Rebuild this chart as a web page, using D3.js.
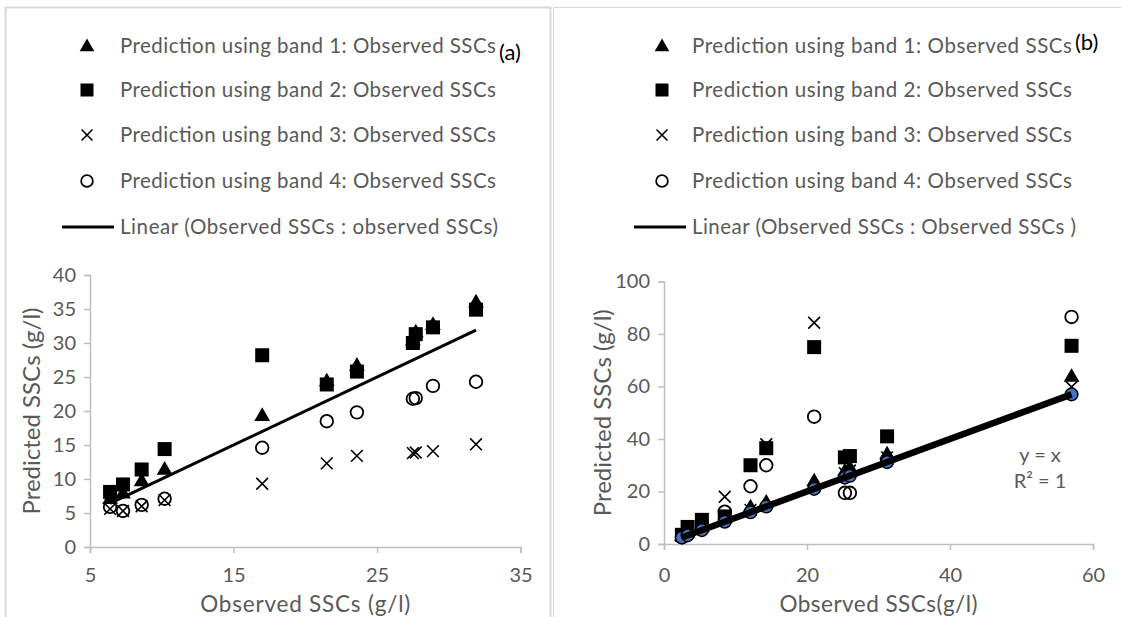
<!DOCTYPE html>
<html><head><meta charset="utf-8">
<script src="https://cdn.jsdelivr.net/npm/d3@7"></script>
<style>body{margin:0;background:#fff}svg{display:block}text{font-family:Lato,"Open Sans",sans-serif}</style>
</head><body>
<svg id="c" width="1121" height="617"></svg>
<script>
// ---------- Data: panel (a) ----------
const obsA  = [6.4, 7.3, 8.6, 10.2, 17.0, 21.5, 23.6, 27.5, 27.7, 28.9, 31.9];
const b1A   = [7.0, 7.8, 9.6, 11.3, 19.2, 24.3, 26.6, 30.3, 31.5, 32.6, 35.9];
const b2A   = [8.1, 9.2, 11.4, 14.4, 28.2, 23.9, 25.8, 30.0, 31.3, 32.3, 34.9];
const b3A   = [5.6, 5.3, 6.0, 6.9, 9.3, 12.3, 13.4, 13.8, 13.9, 14.1, 15.1];
const b4A   = [5.9, 5.3, 6.2, 7.1, 14.6, 18.5, 19.8, 21.8, 21.9, 23.7, 24.3];
const xTicksA = [5, 15, 25, 35];
const yTicksA = [0, 5, 10, 15, 20, 25, 30, 35, 40];
// ---------- Data: panel (b) ----------
const obsB  = [2.5, 3.3, 5.3, 8.5, 12.1, 14.3, 21.0, 25.3, 26.0, 31.2, 57.0];
const b1B   = [3.0, 4.2, 6.2, 9.6, 13.8, 15.6, 23.7, 27.5, 28.8, 34.0, 63.5];
const b2B   = [3.5, 6.5, 9.2, 10.5, 30.0, 36.5, 75.0, 33.0, 33.5, 41.0, 75.5];
const b3B   = [3.2, 5.0, 7.0, 18.0, 13.0, 38.0, 84.3, 27.0, 28.0, 33.0, 59.8];
const b4B   = [2.6, 3.6, 6.0, 12.3, 22.0, 30.0, 48.5, 19.5, 19.5, 32.0, 86.5];
const xTicksB = [0, 20, 40, 60];
const yTicksB = [0, 20, 40, 60, 80, 100];

const legendLabels = [
  "Prediction using band 1: Observed SSCs",
  "Prediction using band 2: Observed SSCs",
  "Prediction using band 3: Observed SSCs",
  "Prediction using band 4: Observed SSCs"
];
const lineLabelA = "Linear (Observed SSCs : observed SSCs)";
const lineLabelB = "Linear (Observed SSCs : Observed SSCs )";

const svg = d3.select("#c");
const grey = "#595959", axisGrey = "#bfbfbf", frame = "#d9d9d9";

// panel frames
svg.append("path").attr("d","M5.5,640V7.5H550.5V640").attr("fill","none").attr("stroke",frame).attr("stroke-width",2);
svg.append("path").attr("d","M553.5,640V7.5H1130").attr("fill","none").attr("stroke",frame).attr("stroke-width",1);

function marker(g, type, x, y, s) {
  if (type === "tri") {
    g.append("path").attr("d", d3.symbol(d3.symbolTriangle, s*s*0.55)()).attr("transform",`translate(${x},${y})`).attr("fill","#000");
  } else if (type === "sq") {
    g.append("rect").attr("x",x-s/2).attr("y",y-s/2).attr("width",s).attr("height",s).attr("fill","#000");
  } else if (type === "x") {
    const h = s*0.42;
    g.append("path").attr("d",`M${x-h},${y-h}L${x+h},${y+h}M${x-h},${y+h}L${x+h},${y-h}`).attr("stroke","#000").attr("stroke-width",1.6).attr("fill","none");
  } else if (type === "circ") {
    g.append("circle").attr("cx",x).attr("cy",y).attr("r",s*0.45).attr("fill","none").attr("stroke","#000").attr("stroke-width",1.8);
  } else if (type === "blue") {
    g.append("circle").attr("cx",x).attr("cy",y).attr("r",s*0.45).attr("fill","#4472C4").attr("stroke","#000").attr("stroke-width",1.5);
  }
}

function panel(cfg) {
  const x = d3.scaleLinear().domain(cfg.xDom).range(cfg.xRange);
  const y = d3.scaleLinear().domain(cfg.yDom).range(cfg.yRange);
  const g = svg.append("g");

  const xa = g.append("g").attr("transform",`translate(0,${cfg.yRange[0]})`)
    .call(d3.axisBottom(x).tickValues(cfg.xTicks).tickSize(6).tickPadding(cfg.xPad).tickFormat(d3.format("d")));
  const ya = g.append("g").attr("transform",`translate(${cfg.xRange[0]},0)`)
    .call(d3.axisLeft(y).tickValues(cfg.yTicks).tickSize(6).tickPadding(8).tickFormat(d3.format("d")));
  [xa, ya].forEach(a => {
    a.select(".domain").attr("stroke",axisGrey).attr("stroke-width",1.5);
    a.selectAll(".tick line").attr("stroke",axisGrey).attr("stroke-width",1.5);
    a.selectAll(".tick text").attr("fill",grey).style("font-size","20px").style("font-family","Lato, 'Open Sans', sans-serif");
  });

  const m = g.append("g");
  const series = [["tri",cfg.b1],["sq",cfg.b2],["x",cfg.b3],["circ",cfg.b4]];
  series.forEach(([t, vals]) => vals.forEach((v,i) => marker(m, t, x(cfg.obs[i]), y(v), 14)));
  if (cfg.blue) cfg.obs.forEach(o => marker(m, "blue", x(o), y(o), 14));

  const lo = d3.min(cfg.obs), hi = d3.max(cfg.obs);
  g.append("line").attr("x1",x(lo)).attr("y1",y(lo)).attr("x2",x(hi)).attr("y2",y(hi))
    .attr("stroke","#000").attr("stroke-width",cfg.lw).attr("stroke-linecap","butt");

  // axis titles
  g.append("text").attr("x",(cfg.xRange[0]+cfg.xRange[1])/2).attr("y",612).attr("text-anchor","middle")
    .attr("fill",grey).style("font-size","22.5px").attr("textLength",cfg.xTitleW).attr("lengthAdjust","spacing").text(cfg.xTitle);
  g.append("text").attr("transform",`translate(${cfg.yTitleX},${(cfg.yRange[0]+cfg.yRange[1])/2}) rotate(-90)`)
    .attr("text-anchor","middle").attr("fill",grey).style("font-size","24px").text("Predicted SSCs (g/l)");

  // legend
  const lg = g.append("g");
  const rows = [46, 90, 135, 181, 227];
  ["tri","sq","x","circ"].forEach((t,i) => {
    marker(lg, t, cfg.legMarkX, rows[i]+(t==="tri"?1:0), 13);
    lg.append("text").attr("x",cfg.legTextX).attr("y",rows[i]).attr("dy","0.36em").attr("fill",grey)
      .style("font-size","20.5px").attr("textLength",cfg.legW).attr("lengthAdjust","spacing").text(legendLabels[i]);
  });
  lg.append("line").attr("x1",cfg.legTextX-58).attr("x2",cfg.legTextX-6).attr("y1",rows[4]).attr("y2",rows[4])
    .attr("stroke","#000").attr("stroke-width",3);
  lg.append("text").attr("x",cfg.legTextX).attr("y",rows[4]).attr("dy","0.36em").attr("fill",grey)
    .style("font-size","20.5px").attr("textLength",cfg.lineW).attr("lengthAdjust","spacing").text(cfg.lineLabel);

  g.append("text").attr("x",cfg.tagX).attr("y",cfg.tagY).attr("fill","#000").style("font-size","22px").text(cfg.tag);
  return {x, y, g};
}

panel({xDom:[5,35], yDom:[0,40], xRange:[90,520.5], yRange:[547,275], xPad:15,
  xTicks:xTicksA, yTicks:yTicksA, obs:obsA, b1:b1A, b2:b2A, b3:b3A, b4:b4A, blue:false, lw:3,
  xTitle:"Observed SSCs (g/l)", xTitleW:210, yTitleX:40, legMarkX:87, legTextX:120, legW:376, lineLabel:lineLabelA, lineW:378,
  tag:"(a)", tagX:499, tagY:60});

const pb = panel({xDom:[0,60], yDom:[0,100], xRange:[664,1093], yRange:[544,281.5], xPad:18,
  xTicks:xTicksB, yTicks:yTicksB, obs:obsB, b1:b1B, b2:b2B, b3:b3B, b4:b4B, blue:true, lw:6.5,
  xTitle:"Observed SSCs(g/l)", xTitleW:198, yTitleX:611, legMarkX:662, legTextX:692, legW:380, lineLabel:lineLabelB, lineW:384,
  tag:"(b)", tagX:1075, tagY:50});

pb.g.append("text").attr("x",1040).attr("y",455).attr("dy","0.36em").attr("text-anchor","middle")
  .attr("fill",grey).style("font-size","20px").text("y = x");
pb.g.append("text").attr("x",1040).attr("y",481).attr("dy","0.36em").attr("text-anchor","middle")
  .attr("fill",grey).style("font-size","20px").text("R² = 1");
</script>
</body></html>
